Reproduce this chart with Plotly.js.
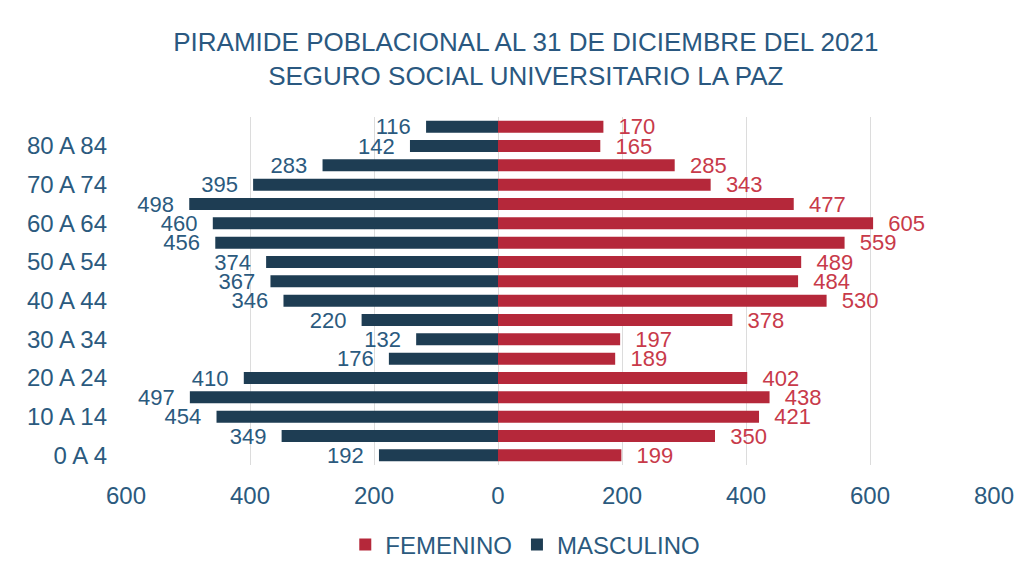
<!DOCTYPE html>
<html>
<head>
<meta charset="utf-8">
<script src="https://cdn.plot.ly/plotly-3.0.1.min.js"></script>
<style>html,body{margin:0;padding:0;background:#fff;}#chart{width:1031px;height:579px;}</style>
</head>
<body>
<div id="chart"></div>
<script>
const categories = ["0 A 4","5 A 9","10 A 14","15 A 19","20 A 24","25 A 29","30 A 34","35 A 39","40 A 44","45 A 49","50 A 54","55 A 59","60 A 64","65 A 69","70 A 74","75 A 79","80 A 84","85 Y MÁS"];
const masculino = [192,349,454,497,410,176,132,220,346,367,374,456,460,498,395,283,142,116];
const femenino  = [199,350,421,438,402,189,197,378,530,484,489,559,605,477,343,285,165,170];
const shownLabels = ["0 A 4","10 A 14","20 A 24","30 A 34","40 A 44","50 A 54","60 A 64","70 A 74","80 A 84"];
const xTickVals = [-600,-400,-200,0,200,400,600,800];
const xTickText = ["600","400","200","0","200","400","600","800"];

const font = "Liberation Sans, Arial, sans-serif";
const gap = "\u00a0\u00a0";
const traces = [
  {
    type: "bar", orientation: "h", name: "FEMENINO",
    y: categories, x: femenino,
    text: femenino.map(v => gap + v), textposition: "outside", constraintext: "none",
    textfont: {family: font, size: 22, color: "#c83a4a"},
    marker: {color: "#b5283a"}, cliponaxis: false
  },
  {
    type: "bar", orientation: "h", name: "MASCULINO",
    y: categories, x: masculino.map(v => -v),
    text: masculino.map(v => v + gap), textposition: "outside", constraintext: "none",
    textfont: {family: font, size: 22, color: "#2b5a7e"},
    marker: {color: "#1e3d53"}, cliponaxis: false
  }
];

const layout = {
  width: 1031, height: 579,
  paper_bgcolor: "#ffffff", plot_bgcolor: "#ffffff",
  margin: {l: 126, r: 37, t: 117, b: 111},
  barmode: "relative", bargap: 0.38,
  showlegend: true,
  font: {family: font, color: "#2b5a7e"},
  title: {
    text: "PIRAMIDE POBLACIONAL AL 31 DE DICIEMBRE DEL 2021<br>SEGURO SOCIAL UNIVERSITARIO LA PAZ",
    font: {family: font, size: 26, color: "#2a5880"},
    xref: "container", x: 0.51, xanchor: "center",
    yref: "container", y: 0.912, yanchor: "middle"
  },
  xaxis: {
    range: [-600, 800], tickmode: "array", tickvals: xTickVals, ticktext: xTickText,
    showgrid: true, gridcolor: "#dcdcdc", gridwidth: 1, zeroline: false,
    showline: false, ticks: "", ticklabelstandoff: 14,
    tickfont: {family: font, size: 24, color: "#2b5a7e"},
    fixedrange: true
  },
  yaxis: {
    type: "category", categoryorder: "array", categoryarray: categories,
    tickmode: "array", tickvals: shownLabels, ticktext: shownLabels,
    showgrid: false, zeroline: false, showline: false, ticks: "", ticklabelstandoff: 18,
    tickfont: {family: font, size: 24, color: "#2b5a7e"}, automargin: false
  },
  legend: {
    orientation: "h", x: 0.46, xanchor: "center", xref: "paper",
    y: -0.165, yanchor: "top", traceorder: "normal", itemwidth: 30,
    font: {family: font, size: 24, color: "#2b5a7e"}
  }
};

Plotly.newPlot("chart", traces, layout, {displayModeBar: false, staticPlot: true});
</script>
</body>
</html>
